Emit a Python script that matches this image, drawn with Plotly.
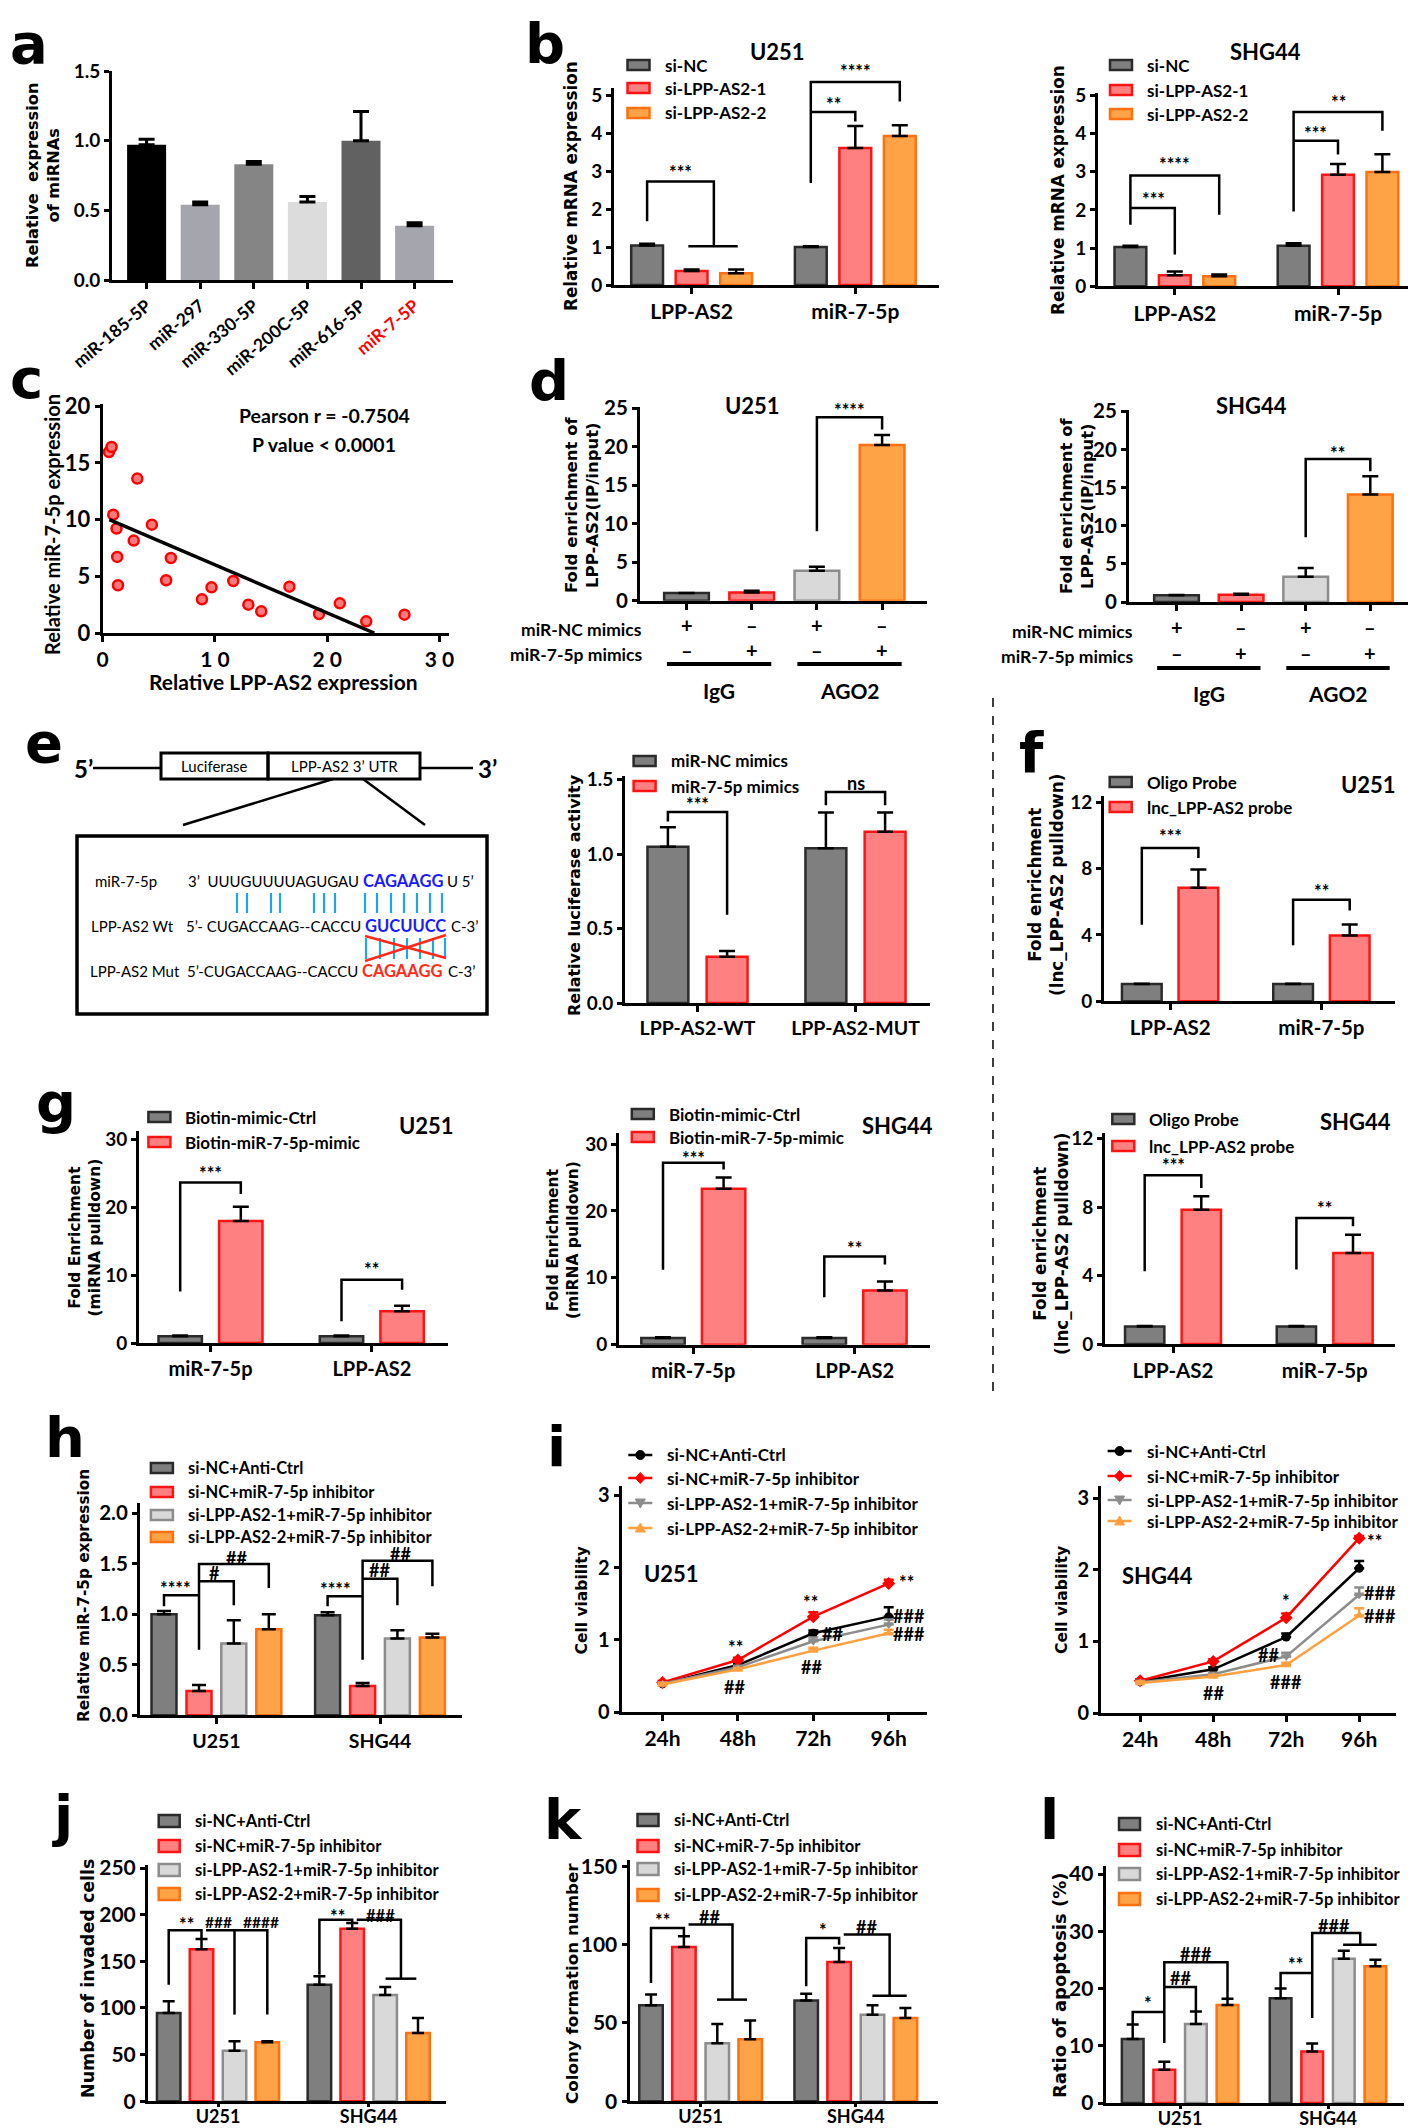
import plotly.graph_objects as go

W, H = 1416, 2128
FC = "Lato"          # Calibri-like text
FV = "DejaVu Sans"   # Verdana-like axis titles

# ======================= DATA =======================
a_labels = ["miR-185-5P", "miR-297", "miR-330-5P", "miR-200C-5P", "miR-616-5P", "miR-7-5P"]
a_values = [0.97, 0.54, 0.83, 0.56, 1.00, 0.39]
a_errors = [0.04, 0.02, 0.02, 0.04, 0.21, 0.02]

b_groups = ["LPP-AS2", "miR-7-5p"]
b_series = ["si-NC", "si-LPP-AS2-1", "si-LPP-AS2-2"]
b_u251_values = [[1.04, 1.00], [0.37, 3.61], [0.31, 3.93]]
b_u251_errors = [[0.05, 0.02], [0.04, 0.58], [0.10, 0.28]]
b_shg44_values = [[1.03, 1.06], [0.29, 2.92], [0.26, 2.99]]
b_shg44_errors = [[0.03, 0.07], [0.10, 0.28], [0.05, 0.47]]

c_lpp_as2 = [0.57, 0.80, 3.09, 0.95, 4.39, 1.24, 2.77, 1.30, 6.08, 1.37, 5.66,
             9.70, 11.64, 8.85, 12.98, 14.13, 16.64, 19.28, 21.13, 23.48, 26.89]
c_mir_7_5p = [15.97, 16.41, 13.62, 10.44, 9.56, 9.21, 8.15, 6.71, 6.62, 4.21, 4.65,
              4.03, 4.59, 2.97, 2.50, 1.91, 4.09, 1.68, 2.62, 1.03, 1.62]
c_fit_x = [0.6, 24.2]
c_fit_y = [10.0, 0.0]
c_stats = ["Pearson r = -0.7504", "P value < 0.0001"]

d_ip = ["IgG", "AGO2"]
d_nc_mimics = ["+", "–", "+", "–"]
d_mir_mimics = ["–", "+", "–", "+"]
d_u251_values = [1.0, 1.05, 3.9, 20.2]
d_u251_errors = [0.0, 0.25, 0.5, 1.3]
d_shg44_values = [0.9, 0.95, 3.3, 14.1]
d_shg44_errors = [0.03, 0.12, 1.15, 2.4]

e_groups = ["LPP-AS2-WT", "LPP-AS2-MUT"]
e_series = ["miR-NC mimics", "miR-7-5p mimics"]
e_values = [[1.05, 1.04], [0.31, 1.15]]
e_errors = [[0.13, 0.24], [0.04, 0.13]]

f_groups = ["LPP-AS2", "miR-7-5p"]
f_series = ["Oligo Probe", "lnc_LPP-AS2 probe"]
f_u251_values = [[1.04, 1.04], [6.83, 3.96]]
f_u251_errors = [[0.02, 0.02], [1.10, 0.66]]
f_shg44_values = [[1.03, 1.03], [7.85, 5.32]]
f_shg44_errors = [[0.02, 0.02], [0.78, 1.07]]

g_groups = ["miR-7-5p", "LPP-AS2"]
g_series = ["Biotin-mimic-Ctrl", "Biotin-miR-7-5p-mimic"]
g_u251_values = [[1.0, 1.0], [18.0, 4.7]]
g_u251_errors = [[0.1, 0.1], [2.1, 0.8]]
g_shg44_values = [[1.0, 1.0], [23.3, 8.1]]
g_shg44_errors = [[0.1, 0.1], [1.7, 1.35]]

cells = ["U251", "SHG44"]
rescue_series = ["si-NC+Anti-Ctrl", "si-NC+miR-7-5p inhibitor",
                 "si-LPP-AS2-1+miR-7-5p inhibitor", "si-LPP-AS2-2+miR-7-5p inhibitor"]
h_values = [[1.0, 0.99], [0.24, 0.29], [0.71, 0.76], [0.85, 0.77]]
h_errors = [[0.03, 0.03], [0.06, 0.03], [0.23, 0.08], [0.15, 0.035]]

i_times = ["24h", "48h", "72h", "96h"]
i_u251_values = [[0.39, 0.65, 1.09, 1.32], [0.41, 0.72, 1.32, 1.78],
                 [0.39, 0.62, 0.98, 1.21], [0.38, 0.59, 0.85, 1.09]]
i_u251_errors = [[0.02, 0.03, 0.04, 0.13], [0.02, 0.03, 0.06, 0.05],
                 [0.02, 0.02, 0.05, 0.07], [0.02, 0.02, 0.04, 0.05]]
i_shg44_values = [[0.44, 0.61, 1.06, 2.02], [0.45, 0.72, 1.33, 2.44],
                  [0.43, 0.54, 0.79, 1.65], [0.42, 0.51, 0.67, 1.36]]
i_shg44_errors = [[0.02, 0.03, 0.05, 0.10], [0.02, 0.03, 0.06, 0.03],
                  [0.02, 0.02, 0.05, 0.10], [0.02, 0.02, 0.03, 0.10]]

j_values = [[94.6, 125.0], [163.0, 185.0], [54.3, 114.0], [63.2, 73.2]]
j_errors = [[12.5, 9.0], [11.0, 6.0], [10.0, 8.5], [1.1, 16.0]]
k_values = [[61.3, 64.3], [98.5, 88.9], [37.0, 55.3], [39.6, 53.2]]
k_errors = [[6.8, 4.4], [6.8, 9.0], [12.4, 6.0], [11.9, 6.4]]
l_values = [[11.2, 18.3], [5.8, 9.0], [13.8, 25.2], [17.1, 23.9]]
l_errors = [[2.5, 1.7], [1.4, 1.4], [2.2, 1.4], [1.1, 1.1]]

# ======================= STYLES =======================
GREY = ("#7f7f7f", "#2a2a2a")
RED = ("#ff8080", "#ff1414")
ORANGE = ("#ffa347", "#ff7010")
LGREY = ("#d9d9d9", "#8c8c8c")
A_COLORS = ["#000000", "#a5a5ad", "#858585", "#dcdcdc", "#616161", "#a5a5ad"]

fig = go.Figure()
LAYOUT = {}
ANNS = []
SHAPES = []
_axn = [0]


def new_axes(xpx, ypx, xr, yr, xtickvals=None, xticktext=None, ytickvals=None,
             yfmt=None, xfont=18, yfont=19, xangle=None, xticklen=6, xstandoff=0):
    _axn[0] += 1
    n = _axn[0]
    s = "" if n == 1 else str(n)
    common = dict(showline=True, linewidth=3, linecolor="black", showgrid=False,
                  zeroline=False, ticks="outside", tickcolor="black", tickwidth=2.5,
                  fixedrange=True, automargin=False)
    xa = dict(common, domain=[xpx[0] / W, xpx[1] / W], range=xr, anchor="y" + s,
              ticklen=xticklen,
              tickfont=dict(family=FC, size=xfont, color="black", weight="bold"))
    if xstandoff:
        xa["ticklabelstandoff"] = xstandoff
    if xtickvals is not None:
        xa.update(tickmode="array", tickvals=xtickvals, ticktext=xticktext)
    if xangle is not None:
        xa["tickangle"] = xangle
    ya = dict(common, domain=[1 - ypx[0] / H, 1 - ypx[1] / H], range=yr, anchor="x" + s,
              ticklen=5, tickfont=dict(family=FC, size=yfont, color="black", weight="bold"))
    if ytickvals is not None:
        ya.update(tickmode="array", tickvals=ytickvals)
    if yfmt:
        ya["tickformat"] = yfmt
    LAYOUT["xaxis" + s] = xa
    LAYOUT["yaxis" + s] = ya
    return "x" + s, "y" + s


class Panel:
    def __init__(self, c0, c1, left, right, offs, bw, y0, vpx, v, top, yticks,
                 yfmt=None, xtickvals=None, xticktext=None, xfont=18, xangle=None,
                 yfont=19, xticklen=6, xstandoff=0):
        unit = c1 - c0
        self.c0, self.unit = c0, unit
        self.y0, self.yu = y0, (y0 - vpx) / v
        self.offs = [o / unit for o in offs]
        self.bw = bw / unit
        yr = [0, v * (y0 - top) / (y0 - vpx)]
        xr = [(left - c0) / unit, (right - c0) / unit]
        self.xa, self.ya = new_axes((left, right), (y0, top), xr, yr, xtickvals, xticktext,
                                    yticks, yfmt, xfont=xfont, yfont=yfont, xangle=xangle,
                                    xticklen=xticklen, xstandoff=xstandoff)

    def x(self, g, s):
        return g + self.offs[s]

    def px(self, xv):
        return self.c0 + xv * self.unit

    def py(self, yv):
        return self.y0 - yv * self.yu


def add_bars(p, values, errors, styles, names=None, ew=7, lw=2.5):
    for s, (vals, errs) in enumerate(zip(values, errors)):
        fig.add_trace(go.Bar(
            x=[p.x(g, s) for g in range(len(vals))], y=vals, width=p.bw,
            marker=dict(color=styles[s][0], line=dict(color=styles[s][1], width=lw)),
            error_y=dict(type="data", symmetric=False, array=errs, arrayminus=[0] * len(errs),
                         color="black", thickness=2.5, width=ew),
            xaxis=p.xa, yaxis=p.ya, name=names[s] if names else "", showlegend=False))


def ppath(pts, color="black", width=2.5, fill=None, closed=False):
    d = "M " + " L ".join("%.5f,%.5f" % (x / W, 1 - y / H) for x, y in pts)
    if closed:
        d += " Z"
    sh = dict(type="path", xref="paper", yref="paper", path=d,
              line=dict(color=color, width=width))
    if fill:
        sh["fillcolor"] = fill
    SHAPES.append(sh)


def path(p, pts, width=2.5, color="black"):
    ppath([(p.px(x), p.py(y)) for x, y in pts], color, width)


def text(x, y, s, size=18, family=FC, bold=True, xref="paper", yref="paper",
         xanchor="center", yanchor="middle", angle=0, color="black"):
    if xref == "paper":
        x = x / W
    if yref == "paper":
        y = 1 - y / H
    ANNS.append(dict(x=x, y=y, xref=xref, yref=yref, text=s, showarrow=False,
                     xanchor=xanchor, yanchor=yanchor, textangle=angle,
                     font=dict(family=family, size=size, color=color,
                               weight="bold" if bold else "normal")))


def star(p, x, y, s, size=18):
    text(p.px(x), p.py(y), s, size=size)


def pline(x0, y0, x1, y1, width=2.5, color="black", dash=None):
    ln = dict(color=color, width=width)
    if dash:
        ln["dash"] = dash
    SHAPES.append(dict(type="line", xref="paper", yref="paper", x0=x0 / W, y0=1 - y0 / H,
                       x1=x1 / W, y1=1 - y1 / H, line=ln))


def prect(x0, y0, x1, y1, width=3, fill=None, color="black"):
    sh = dict(type="rect", xref="paper", yref="paper", x0=x0 / W, y0=1 - y0 / H,
              x1=x1 / W, y1=1 - y1 / H, line=dict(color=color, width=width))
    if fill:
        sh["fillcolor"] = fill
    SHAPES.append(sh)


def bar_legend(names, styles, text_x, rows, size=17, mw=22, mh=10):
    cx = text_x - 24
    for nm, st, ry in zip(names, styles, rows):
        prect(cx - mw / 2, ry - mh / 2, cx + mw / 2, ry + mh / 2, 2.5, st[0], st[1])
        text(text_x, ry, nm, size=size, xanchor="left")


# ======================= PANEL LETTERS =======================
for lt, lx, ly in [("a", 0, 35), ("b", 515, 35), ("c", 0, 371), ("d", 519, 373),
                   ("e", 15, 734), ("f", 1009, 744), ("g", 26, 1094), ("h", 35, 1429),
                   ("i", 537, 1438), ("j", 42, 1807), ("k", 534, 1811), ("l", 1030, 1811)]:
    text(lx, ly, lt, size=56, family=FV, xanchor="left")

# ======================= a =======================
pa = Panel(138.6, 192.2, 104, 445, [0], 39, 272, 63, 1.5, 63, [0, 0.5, 1.0, 1.5], ".1f",
           list(range(6)),
           a_labels[:-1] + ["<span style='color:#ff0000'>%s</span>" % a_labels[-1]],
           xfont=17.5, xangle=-40)
fig.add_trace(go.Bar(x=list(range(6)), y=a_values, width=pa.bw,
                     marker=dict(color=A_COLORS, line=dict(width=0)),
                     error_y=dict(type="data", symmetric=False, array=a_errors,
                                  arrayminus=[0] * 6, color="black", thickness=3, width=8),
                     xaxis=pa.xa, yaxis=pa.ya, showlegend=False))
text(35, 168, "Relative  expression<br>of miRNAs", size=16.2, family=FV, angle=-90)

# ======================= b =======================
pb1 = Panel(683.6, 847.3, 606, 931, [-44.5, 0, 44.5], 31.8, 277, 87.3, 5, 80,
            [0, 1, 2, 3, 4, 5], None, [0, 1], b_groups, xfont=21)
add_bars(pb1, b_u251_values, b_u251_errors, [GREY, RED, ORANGE], b_series, ew=8)
bar_legend(b_series, [GREY, RED, ORANGE], 654.5, [57, 80, 105])
pb2 = Panel(1166.8, 1330, 1090, 1414, [-44.4, 0, 44.4], 31.8, 278.3, 87.3, 5, 85,
            [0, 1, 2, 3, 4, 5], None, [0, 1], b_groups, xfont=21)
add_bars(pb2, b_shg44_values, b_shg44_errors, [GREY, RED, ORANGE], b_series, ew=8)
bar_legend(b_series, [GREY, RED, ORANGE], 1137, [57, 82, 106])
text(770, 43, "U251", size=22)
text(1257, 43, "SHG44", size=22)
text(563, 178, "Relative mRNA expression", size=16.8, family=FV, angle=-90)
text(1050, 182, "Relative mRNA expression", size=16.8, family=FV, angle=-90)

p = pb1
path(p, [(p.x(0, 0), 1.68), (p.x(0, 0), 2.73), (0.136, 2.73), (0.136, 1.02)])
path(p, [(p.x(0, 1) - 0.02, 1.02), (p.x(0, 2) + 0.01, 1.02)])
star(p, -0.068, 2.98, "***")
path(p, [(p.x(1, 0), 2.69), (p.x(1, 0), 5.35), (p.x(1, 2), 5.35), (p.x(1, 2), 4.84)])
star(p, 1.0, 5.63, "****")
path(p, [(p.x(1, 0), 4.56), (p.x(1, 1), 4.56), (p.x(1, 1), 4.31)])
star(p, 0.864, 4.78, "**")
p = pb2
path(p, [(p.x(0, 0), 1.61), (p.x(0, 0), 2.9), (p.x(0, 2), 2.9), (p.x(0, 2), 1.87)])
path(p, [(p.x(0, 0), 2.05), (p.x(0, 1), 2.05), (p.x(0, 1), 0.83)])
star(p, -0.13, 2.29, "***")
star(p, 0.0, 3.2, "****")
path(p, [(p.x(1, 0), 1.96), (p.x(1, 0), 4.56), (p.x(1, 2), 4.56), (p.x(1, 2), 4.07)])
path(p, [(p.x(1, 0), 3.81), (p.x(1, 1), 3.81), (p.x(1, 1), 3.45)])
star(p, 1.0, 4.82, "**")
star(p, 0.864, 4.02, "***")

# ======================= c =======================
cxa, cya = new_axes((94.6, 441), (625, 396), [0, (441 - 94.6) / 11.227],
                    [0, (625 - 396) / 11.335], [0, 10, 20, 30], ["0", "1 0", "2 0", "3 0"],
                    [0, 5, 10, 15, 20], None, xfont=21, yfont=22)
fig.add_trace(go.Scatter(x=c_lpp_as2, y=c_mir_7_5p, mode="markers", xaxis=cxa, yaxis=cya,
                         marker=dict(size=10, color="#ff7a7a", line=dict(color="#ff0000", width=2.5)),
                         showlegend=False, cliponaxis=False))
fig.add_trace(go.Scatter(x=c_fit_x, y=c_fit_y, mode="lines", xaxis=cxa, yaxis=cya,
                         line=dict(color="black", width=3.5), showlegend=False))
text(316, 407, c_stats[0], size=19.5)
text(316, 437, c_stats[1], size=19.5)
text(44, 517, "Relative miR-7-5p expression", size=20, angle=-90)
text(275, 674, "Relative LPP-AS2 expression", size=21)

# ======================= d =======================
D_STYLES = [GREY, RED, LGREY, ORANGE]


def d_panel(p, vals, errs, sign_x_right, y_nc, y_mi, y_line, y_ip, title, tx, ty, ytx, yty):
    fig.add_trace(go.Bar(x=list(range(4)), y=vals, width=p.bw,
                         marker=dict(color=[s[0] for s in D_STYLES],
                                     line=dict(color=[s[1] for s in D_STYLES], width=2.5)),
                         error_y=dict(type="data", symmetric=False, array=errs,
                                      arrayminus=[0] * 4, color="black", thickness=2.5, width=8),
                         xaxis=p.xa, yaxis=p.ya, showlegend=False))
    for i in range(4):
        text(p.px(i), y_nc, d_nc_mimics[i], size=20)
        text(p.px(i), y_mi, d_mir_mimics[i], size=20)
    text(sign_x_right, y_nc + 4, "miR-NC mimics", size=17.5, xanchor="right")
    text(sign_x_right, y_mi + 4, "miR-7-5p mimics", size=17.5, xanchor="right")
    for k, c in enumerate([0.5, 2.5]):
        pline(p.px(c - 0.8), y_line, p.px(c + 0.8), y_line, 4)
        text(p.px(c), y_ip, d_ip[k], size=21)
    text(tx, ty, title, size=22)
    text(ytx, yty, "Fold enrichment of<br>LPP-AS2(IP/input)", size=16.5, family=FV, angle=-90)


pd1 = Panel(678.5, 743.7, 632, 919, [0], 44.7, 592.7, 400, 25, 399, [0, 5, 10, 15, 20, 25],
            None, [0, 1, 2, 3], ["", "", "", ""], yfont=20.5)
d_panel(pd1, d_u251_values, d_u251_errors, 636, 617, 642, 656, 683, "U251", 744, 397, 574, 497)
path(pd1, [(2, 9.0), (2, 23.8), (3, 23.8), (3, 22.2)])
star(pd1, 2.5, 24.8, "****")
pd2 = Panel(1168.5, 1233.1, 1121, 1406, [0], 44.7, 594, 403.3, 25, 401.7, [0, 5, 10, 15, 20, 25],
            None, [0, 1, 2, 3], ["", "", "", ""], yfont=20.5)
d_panel(pd2, d_shg44_values, d_shg44_errors, 1127, 619, 645, 660, 685, "SHG44", 1243, 398, 1069, 498)
path(pd2, [(2, 8.48), (2, 18.74), (3, 18.74), (3, 17.13)])
star(pd2, 2.5, 19.5, "**")

# ======================= e (diagram) =======================
text(75, 760, "5’", size=24, xanchor="center")
text(479, 760, "3’", size=24, xanchor="center")
pline(85, 760, 153, 760, 2.5)
pline(412, 760, 465, 760, 2.5)
prect(153, 745, 260, 771, 3)
prect(260, 745, 412, 771, 3)
text(206.7, 758, "Luciferase", size=15, bold=False)
text(336, 758, "LPP-AS2 3’ UTR", size=15, bold=False)
pline(325, 771, 175, 817, 2.5)
pline(355, 771, 417, 817, 2.5)
prect(69, 828, 479, 1006, 3.5)
SEQ = 15
LBL = 15
text(85, 873, "miR-7-5p", size=LBL, bold=False, xanchor="left")
text(353, 873, "3’  UUUGUUUUAGUGAU", size=SEQ, bold=False, xanchor="right")
text(353, 873, "CAGAAGG", size=16.5, xanchor="left", color="#1a1aff")
text(437, 873, "U 5’", size=SEQ, bold=False, xanchor="left")
text(81, 918, "LPP-AS2 Wt", size=LBL, bold=False, xanchor="left")
text(355, 918, "5’- CUGACCAAG--CACCU", size=SEQ, bold=False, xanchor="right")
text(355, 918, "GUCUUCC", size=16.5, xanchor="left", color="#1a1aff")
text(441, 918, "C-3’", size=SEQ, bold=False, xanchor="left")
text(80, 963, "LPP-AS2 Mut", size=LBL, bold=False, xanchor="left")
text(352, 963, "5’-CUGACCAAG--CACCU", size=SEQ, bold=False, xanchor="right")
text(352, 963, "CAGAAGG", size=16.5, xanchor="left", color="#ff2a1a")
text(438, 963, "C-3’", size=SEQ, bold=False, xanchor="left")
for xx in [229, 239, 263, 272, 306, 316, 327, 357, 369, 383, 396, 409, 422, 434]:
    pline(xx, 885, xx, 905, 2.2, "#1ea7e8")
for xx in [358, 372, 386, 399, 412, 425, 437]:
    pline(xx, 930, xx, 951, 2.2, "#1ea7e8")
pline(357, 928, 438, 950, 2.5, "#ff2a1a")
pline(357, 953, 438, 927, 2.5, "#ff2a1a")

# ======================= e (luciferase) =======================
pe = Panel(689.5, 847.5, 617, 922, [-29.6, 29.6], 40.9, 995, 771.7, 1.5, 768,
           [0, 0.5, 1.0, 1.5], ".1f", [0, 1], e_groups, xfont=19.5)
add_bars(pe, e_values, e_errors, [GREY, RED], e_series, ew=8)
bar_legend(e_series, [GREY, RED], 660.6, [753, 778])
path(pe, [(pe.x(0, 0), 1.22), (pe.x(0, 0), 1.283), (pe.x(0, 1), 1.283), (pe.x(0, 1), 0.593)])
star(pe, 0, 1.335, "***")
path(pe, [(pe.x(1, 0), 1.328), (pe.x(1, 0), 1.417), (pe.x(1, 1), 1.417), (pe.x(1, 1), 1.328)])
star(pe, 1, 1.475, "ns")
text(566, 887, "Relative luciferase activity", size=16, family=FV, angle=-90)

# dashed divider
pline(985, 690, 985, 1390, 1.5, "black", "dash")

# ======================= f =======================
pf1 = Panel(1162.1, 1313.4, 1096, 1387, [-28.3, 28.3], 39.7, 993.3, 794, 12, 788,
            [0, 4, 8, 12], None, [0, 1], f_groups, xfont=20.5)
add_bars(pf1, f_u251_values, f_u251_errors, [GREY, RED], f_series, ew=8)
bar_legend(f_series, [GREY, RED], 1136.7, [774, 799])
path(pf1, [(pf1.x(0, 0), 4.61), (pf1.x(0, 0), 9.23), (pf1.x(0, 1), 9.23), (pf1.x(0, 1), 8.63)])
star(pf1, 0, 9.94, "***")
path(pf1, [(pf1.x(1, 0), 3.37), (pf1.x(1, 0), 6.12), (pf1.x(1, 1), 6.12), (pf1.x(1, 1), 5.46)])
star(pf1, 1, 6.66, "**")
text(1360, 777, "U251", size=22)
text(1038, 877, "Fold enrichment<br>(lnc_LPP-AS2 pulldown)", size=16.8, family=FV, angle=-90)

pf2 = Panel(1165, 1316.7, 1097, 1387, [-28.3, 28.3], 39.3, 1336, 1130.7, 12, 1125,
            [0, 4, 8, 12], None, [0, 1], f_groups, xfont=20.5)
add_bars(pf2, f_shg44_values, f_shg44_errors, [GREY, RED], f_series, ew=8)
bar_legend(f_series, [GREY, RED], 1139.3, [1111, 1138])
path(pf2, [(pf2.x(0, 0), 4.25), (pf2.x(0, 0), 9.86), (pf2.x(0, 1), 9.86), (pf2.x(0, 1), 9.12)])
star(pf2, 0, 10.45, "***")
path(pf2, [(pf2.x(1, 0), 4.35), (pf2.x(1, 0), 7.37), (pf2.x(1, 1), 7.37), (pf2.x(1, 1), 6.88)])
star(pf2, 1, 7.95, "**")
text(1347, 1113, "SHG44", size=22)
text(1043, 1236, "Fold enrichment<br>(lnc_LPP-AS2 pulldown)", size=16.8, family=FV, angle=-90)

# ======================= g =======================
pg1 = Panel(202.5, 363.8, 131, 440, [-30.3, 30.3], 43.4, 1335, 1131.7, 30, 1123,
            [0, 10, 20, 30], None, [0, 1], g_groups, xfont=20)
add_bars(pg1, g_u251_values, g_u251_errors, [GREY, RED], g_series, ew=8)
bar_legend(g_series, [GREY, RED], 175.4, [1109, 1134])
path(pg1, [(pg1.x(0, 0), 7.6), (pg1.x(0, 0), 23.7), (pg1.x(0, 1), 23.7), (pg1.x(0, 1), 22.0)])
star(pg1, 0, 25.1, "***")
path(pg1, [(pg1.x(1, 0), 3.2), (pg1.x(1, 0), 9.34), (pg1.x(1, 1), 9.34), (pg1.x(1, 1), 7.86)])
star(pg1, 1, 10.9, "**")
text(418, 1117, "U251", size=22)
text(76.5, 1230, "Fold Enrichment<br>(miRNA pulldown)", size=15.5, family=FV, angle=-90)

pg2 = Panel(685.3, 846.6, 611, 921.5, [-30.3, 30.3], 43.4, 1336.7, 1136, 30, 1125,
            [0, 10, 20, 30], None, [0, 1], g_groups, xfont=20)
add_bars(pg2, g_shg44_values, g_shg44_errors, [GREY, RED], g_series, ew=8)
bar_legend(g_series, [GREY, RED], 658.8, [1106, 1129])
path(pg2, [(pg2.x(0, 0), 11.2), (pg2.x(0, 0), 27.2), (pg2.x(0, 1), 27.2), (pg2.x(0, 1), 26.2)])
star(pg2, 0, 27.85, "***")
path(pg2, [(pg2.x(1, 0), 7.1), (pg2.x(1, 0), 13.2), (pg2.x(1, 1), 13.2), (pg2.x(1, 1), 12.0)])
star(pg2, 1, 14.45, "**")
text(890, 1117, "SHG44", size=22)
text(555, 1232, "Fold Enrichment<br>(miRNA pulldown)", size=15.5, family=FV, angle=-90)

# ======================= h =======================
R4 = [GREY, RED, LGREY, ORANGE]
ph = Panel(208.4, 372, 132, 453.6, [-52.4, -17.4, 17.4, 52.4], 25, 1707.3, 1505, 2, 1495,
           [0, 0.5, 1.0, 1.5, 2.0], ".1f", [0, 1], cells, xfont=19.5, yfont=20.5)
add_bars(ph, h_values, h_errors, R4, rescue_series, ew=7)
bar_legend(rescue_series, R4, 177.9, [1460, 1484, 1507, 1529], size=16.5)
p = ph
path(p, [(p.x(0, 0), 1.077), (p.x(0, 0), 1.186), (p.x(0, 1), 1.186)])
path(p, [(p.x(0, 1), 0.649), (p.x(0, 1), 1.496), (p.x(0, 3), 1.496), (p.x(0, 3), 1.259)])
path(p, [(p.x(0, 1), 1.325), (p.x(0, 2), 1.325), (p.x(0, 2), 1.087)])
star(p, -0.248, 1.262, "****")
star(p, -0.012, 1.41, "#")
star(p, 0.123, 1.558, "##")
path(p, [(p.x(1, 0), 1.077), (p.x(1, 0), 1.176), (p.x(1, 1), 1.176)])
path(p, [(p.x(1, 1), 0.55), (p.x(1, 1), 1.529), (p.x(1, 3), 1.529), (p.x(1, 3), 1.275)])
path(p, [(p.x(1, 1), 1.351), (p.x(1, 2), 1.351), (p.x(1, 2), 1.087)])
star(p, 0.73, 1.252, "****")
star(p, 0.996, 1.433, "##")
star(p, 1.128, 1.59, "##")
text(76, 1588, "Relative miR-7-5p expression", size=15.3, family=FV, angle=-90)

# ======================= i =======================
I_STYLES = [("#000000", "circle", 9), ("#ff0000", "diamond", 10),
            ("#8c8c8c", "triangle-down", 9), ("#ffa040", "triangle-up", 9)]


def marker_shape(kind, cx, cy, col):
    r = 4.5
    if kind == "circle":
        SHAPES.append(dict(type="circle", xref="paper", yref="paper",
                           x0=(cx - r) / W, x1=(cx + r) / W, y0=1 - (cy + r) / H,
                           y1=1 - (cy - r) / H, fillcolor=col, line=dict(color=col, width=1)))
    elif kind == "diamond":
        ppath([(cx, cy - 5.5), (cx + 5, cy), (cx, cy + 5.5), (cx - 5, cy)], col, 1, col, True)
    elif kind == "triangle-down":
        ppath([(cx - 5, cy - 4), (cx + 5, cy - 4), (cx, cy + 5)], col, 1, col, True)
    else:
        ppath([(cx - 5, cy + 4), (cx + 5, cy + 4), (cx, cy - 5)], col, 1, col, True)


def i_panel(p, values, errors, text_x, rows):
    for s, (vals, errs) in enumerate(zip(values, errors)):
        col, sym, sz = I_STYLES[s]
        fig.add_trace(go.Scatter(
            x=list(range(4)), y=vals, mode="lines+markers", xaxis=p.xa, yaxis=p.ya,
            line=dict(color=col, width=2.5), marker=dict(symbol=sym, size=sz, color=col),
            error_y=dict(type="data", symmetric=False, array=errs, arrayminus=[0] * 4,
                         color=col, thickness=2.5, width=5),
            name=rescue_series[s], showlegend=False, cliponaxis=False))
        ry = rows[s]
        pline(text_x - 37, ry, text_x - 13, ry, 2.5, col)
        marker_shape(sym, text_x - 25, ry, col)
        text(text_x, ry, rescue_series[s], size=17, xanchor="left")


pi1 = Panel(654.5, 729.9, 613.7, 918.8, [0], 0, 1704, 1487.3, 3, 1478, [0, 1, 2, 3], None,
            [0, 1, 2, 3], i_times, xfont=21, yfont=20)
i_panel(pi1, i_u251_values, i_u251_errors, 657.3, [1447, 1470, 1495, 1520])
for xx, yy, ss in [(1.96, 1.52, "**"), (0.964, 0.90, "**"), (3.24, 1.80, "**"),
                   (3.27, 1.325, "###"), (3.27, 1.08, "###"), (2.26, 1.08, "##"),
                   (1.98, 0.62, "##"), (0.96, 0.34, "##")]:
    star(pi1, xx, yy, ss)
text(663, 1565, "U251", size=22)
text(573.5, 1593, "Cell viability", size=15.5, family=FV, angle=-90)

pi2 = Panel(1132.2, 1205.2, 1093, 1388, [0], 0, 1705, 1490, 3, 1478, [0, 1, 2, 3], None,
            [0, 1, 2, 3], i_times, xfont=21, yfont=20)
i_panel(pi2, i_shg44_values, i_shg44_errors, 1136.6, [1443, 1468, 1492, 1513])
for xx, yy, ss in [(2.0, 1.56, "*"), (3.21, 2.40, "**"), (3.29, 1.67, "###"),
                   (3.29, 1.36, "###"), (1.76, 0.81, "##"), (2.0, 0.43, "###"),
                   (1.01, 0.28, "##")]:
    star(pi2, xx, yy, ss)
text(1149, 1567, "SHG44", size=22)
text(1054, 1592, "Cell viability", size=15.5, family=FV, angle=-90)

# ======================= j =======================
pj = Panel(210, 360.7, 140, 438, [-49.3, -16.5, 16.5, 49.3], 23.5, 2093.3, 1860, 250, 1856.7,
           [0, 50, 100, 150, 200, 250], None, [0, 1], cells, xfont=18, yfont=21, xticklen=3,
           xstandoff=-6)
add_bars(pj, j_values, j_errors, R4, rescue_series, ew=6)
bar_legend(rescue_series, R4, 185.2, [1813, 1838, 1862, 1886], size=16.5, mw=21, mh=12)
p = pj
path(p, [(p.x(0, 0), 125), (p.x(0, 0), 183.2), (p.x(0, 1), 183.2), (p.x(0, 1), 174.3)])
path(p, [(p.x(0, 1) + 0.03, 183.2), (p.x(0, 3), 183.2), (p.x(0, 3), 92.9)])
path(p, [(p.x(0, 2), 183.2), (p.x(0, 2), 92.9)])
star(p, -0.212, 190, "**")
star(p, 0.0, 192, "###", size=15.5)
star(p, 0.285, 192, "####", size=15.5)
path(p, [(p.x(1, 0), 135.7), (p.x(1, 0), 194.6), (p.x(1, 1), 194.6), (p.x(1, 1), 191)])
path(p, [(p.x(1, 1) + 0.03, 194.6), (1.214, 194.6), (1.214, 131.4)])
path(p, [(1.112, 131.4), (1.316, 131.4)])
star(p, 0.794, 199, "**")
star(p, 1.076, 199, "###", size=16.5)
text(80, 1970, "Number of invaded cells", size=17.5, family=FV, angle=-90)

# ======================= k =======================
pk = Panel(692.6, 847.8, 621.5, 930.4, [-49.6, -16.7, 16.7, 49.6], 23.5, 2093.3, 1858.3, 150,
           1851.7, [0, 50, 100, 150], None, [0, 1], cells, xfont=18, yfont=21, xticklen=3,
           xstandoff=-6)
add_bars(pk, k_values, k_errors, R4, rescue_series, ew=6)
bar_legend(rescue_series, R4, 664, [1812, 1838, 1861, 1887], size=16.5, mw=21, mh=12)
p = pk
path(p, [(p.x(0, 0), 75.5), (p.x(0, 0), 110.6), (p.x(0, 1), 110.6), (p.x(0, 1), 105.3)])
path(p, [(p.x(0, 1) + 0.03, 112.8), (0.2055, 112.8), (0.2055, 64.9)])
path(p, [(0.106, 64.9), (0.299, 64.9)])
star(p, -0.243, 115.5, "**")
star(p, 0.06, 117.5, "##")
path(p, [(p.x(1, 0), 73.4), (p.x(1, 0), 104.3), (p.x(1, 1), 104.3), (p.x(1, 1), 100)])
path(p, [(p.x(1, 1) + 0.03, 106.4), (1.218, 106.4), (1.218, 67.4)])
path(p, [(1.107, 67.4), (1.328, 67.4)])
star(p, 0.787, 109.5, "*")
star(p, 1.068, 111, "##")
text(564, 1976, "Colony formation number", size=16.7, family=FV, angle=-90)

# ======================= l =======================
pl = Panel(1172.1, 1320, 1097.6, 1395.7, [-47.4, -15.8, 15.8, 47.4], 21.7, 2095, 1866, 40,
           1858.3, [0, 10, 20, 30, 40], None, [0, 1], cells, xfont=18, yfont=21, xticklen=3,
           xstandoff=-6)
add_bars(pl, l_values, l_errors, R4, rescue_series, ew=6)
bar_legend(rescue_series, R4, 1145.5, [1816, 1842, 1866, 1891], size=16.5, mw=21, mh=12)
p = pl
path(p, [(p.x(0, 0), 13.57), (p.x(0, 0), 15.9), (p.x(0, 1), 15.9)])
path(p, [(p.x(0, 1), 10.48), (p.x(0, 1), 24.57), (p.x(0, 3), 24.57), (p.x(0, 3), 18.34)])
path(p, [(p.x(0, 1), 20.26), (p.x(0, 2), 20.26), (p.x(0, 2), 16.0)])
star(p, -0.216, 17.4, "*")
star(p, 0.003, 21.8, "##")
star(p, 0.107, 26.0, "###")
path(p, [(p.x(1, 0), 19.97), (p.x(1, 0), 22.7), (p.x(1, 1), 22.7)])
path(p, [(p.x(1, 1), 14.85), (p.x(1, 1), 29.7), (1.218, 29.7), (1.218, 27.66)])
path(p, [(1.102, 27.66), (1.329, 27.66)])
star(p, 0.779, 24.3, "**")
star(p, 1.041, 31.0, "###")
text(1051, 1978, "Ratio of apoptosis (%)", size=18, family=FV, angle=-90)

# ======================= LAYOUT =======================
fig.update_layout(width=W, height=H, autosize=False,
                  margin=dict(l=0, r=0, t=0, b=0, pad=0, autoexpand=False),
                  paper_bgcolor="white", plot_bgcolor="rgba(0,0,0,0)", barmode="overlay",
                  showlegend=False, annotations=ANNS, shapes=SHAPES, **LAYOUT)
fig.write_html("out.html")
